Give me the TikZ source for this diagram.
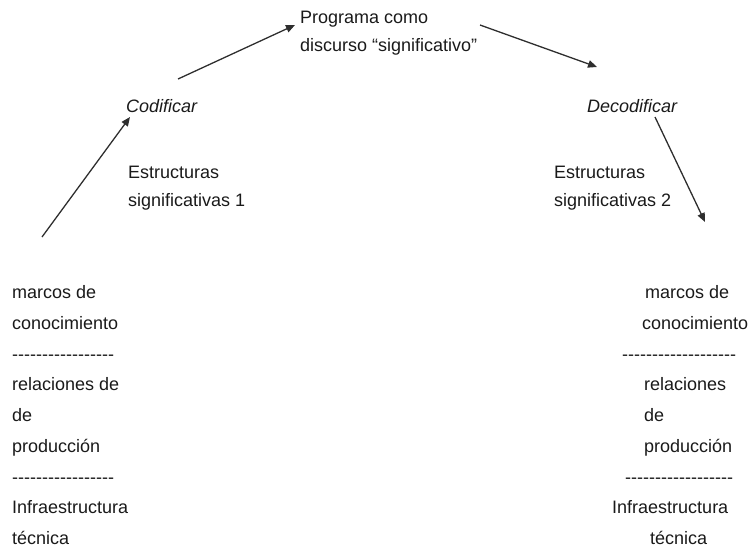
\documentclass[tikz,border=0pt]{standalone}
\usepackage{fontspec}
\setmainfont{Liberation Sans}[Ligatures=TeXOff]
\usetikzlibrary{arrows.meta}
\definecolor{txt}{HTML}{1A1A1A}
\definecolor{arr}{HTML}{2E2E2E}
\begin{document}
\begin{tikzpicture}[x=1pt,y=-1pt,
  lbl/.style={anchor=base west,inner sep=0pt,text=txt,font=\fontsize{18}{22}\selectfont},
  conn/.style={draw=arr,line width=1.3pt,-{Triangle[length=9pt,width=7.5pt]}}]
\useasboundingbox (0,0) rectangle (749,547);
% top
\node[lbl] (prog1) at (300,23) {Programa como};
\node[lbl] (prog2) at (300,51) {discurso “significativo”};
\node[lbl,font=\fontsize{18}{22}\selectfont\itshape] (cod) at (126,112) {Codificar};
\node[lbl,font=\fontsize{18}{22}\selectfont\itshape] (dec) at (587,112) {Decodificar};
\node[lbl] (est1a) at (128,178) {Estructuras};
\node[lbl] (est1b) at (128,206) {significativas 1};
\node[lbl] (est2a) at (554,178) {Estructuras};
\node[lbl] (est2b) at (554,206) {significativas 2};
% left column
\node[lbl] (l1) at (12,298) {marcos de};
\node[lbl] (l2) at (12,329) {conocimiento};
\node[lbl] (l3) at (12,360) {-----------------};
\node[lbl] (l4) at (12,390) {relaciones de};
\node[lbl] (l5) at (12,421) {de};
\node[lbl] (l6) at (12,452) {producción};
\node[lbl] (l7) at (12,483) {-----------------};
\node[lbl] (l8) at (12,513) {Infraestructura};
\node[lbl] (l9) at (12,544) {técnica};
% right column
\node[lbl] (r1) at (645,298) {marcos de};
\node[lbl] (r2) at (642,329) {conocimiento};
\node[lbl] (r3) at (622,360) {-------------------};
\node[lbl] (r4) at (644,390) {relaciones};
\node[lbl] (r5) at (644,421) {de};
\node[lbl] (r6) at (644,452) {producción};
\node[lbl] (r7) at (625,483) {------------------};
\node[lbl] (r8) at (612,513) {Infraestructura};
\node[lbl] (r9) at (650,544) {técnica};
% arrow ends
\coordinate (a1s) at (42,237);
\coordinate (a1e) at (130,117);
\coordinate (a2s) at (178,79);
\coordinate (a2e) at (295,25);
\coordinate (a3s) at (480,25);
\coordinate (a3e) at (597,67);
\coordinate (a4s) at (655,117);
\coordinate (a4e) at (705,222);
\draw[conn] (a1s) -- (a1e);
\draw[conn] (a2s) -- (a2e);
\draw[conn] (a3s) -- (a3e);
\draw[conn] (a4s) -- (a4e);
\end{tikzpicture}
\end{document}
